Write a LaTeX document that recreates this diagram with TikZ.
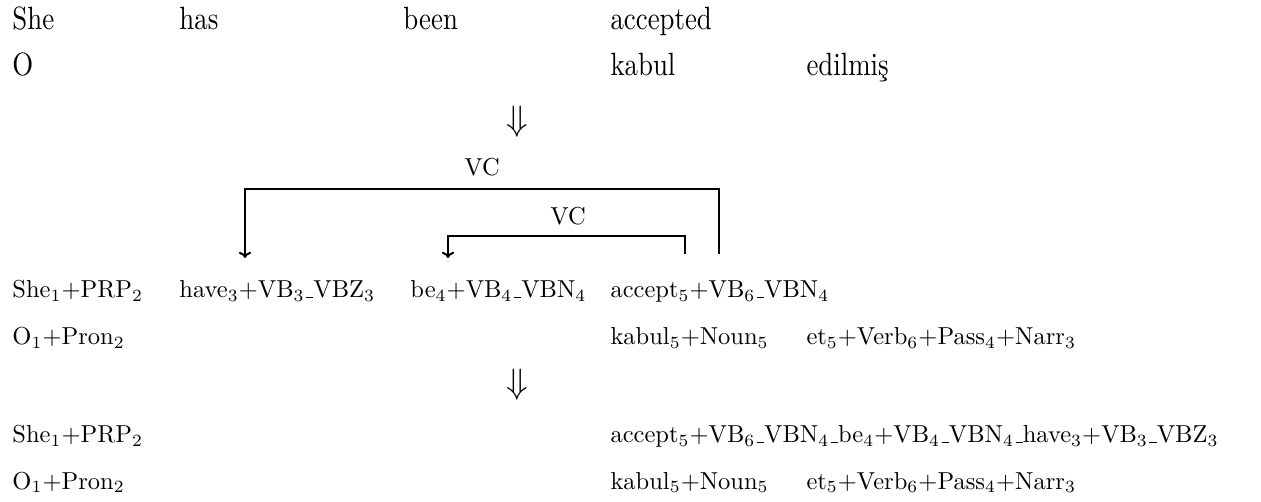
\documentclass[tikz,border=0pt]{standalone}
\usepackage{amssymb,amsmath}
\usepackage{graphicx}
\usepackage{xcolor}
\usepackage{tikz}
\usetikzlibrary{arrows.meta}

% short low rule, as in the OT1 fonts
\newcommand{\usc}{\leavevmode\kern.06em\vbox{\hrule width.3em}}
\newcommand{\tallword}[1]{\scalebox{1}[1.2]{#1}}

\tikzset{
  word/.style={anchor=base west,inner sep=0pt},
  srcword/.style={word,font=\fontsize{10.95}{13}\selectfont},
  vclabel/.style={inner sep=0.75pt},
  vcline/.style={line width=0.8pt,-{To[length=2.5pt,width=5pt]}},
  stepsign/.style={inner sep=0pt,font=\fontsize{15}{18}\selectfont}
}

\begin{document}
\begin{tikzpicture}[x=0.408pt,y=0.408pt,yscale=-1,xscale=1]
\useasboundingbox (0,0) rectangle (1261,502);

% Text Node
\node[srcword] (she)   at (12,30)  {\tallword{She}};
\node[srcword] (has)   at (179,30) {\tallword{has}};
\node[srcword] (been)  at (403,30) {\tallword{been}};
\node[srcword] (acced) at (610,30) {\tallword{accepted}};
% Text Node
\node[srcword] (o)     at (12,76)  {\tallword{O}};
\node[srcword] (kabul) at (610,76) {\tallword{kabul}};
\node[srcword] (edil)  at (806,76) {\tallword{edilmiş}};

% Text Node
\node[stepsign] (stepA) at (517,122) {$\Downarrow$};

% Text Node
\node[word] (sheT)  at (12,298)  {She$_1$+PRP$_2$};
\node[word] (have)  at (179,298) {have$_3$+VB$_3$\usc VBZ$_3$};
\node[word] (be)    at (410,298) {be$_4$+VB$_4$\usc VBN$_4$};
\node[word] (acc)   at (610,298) {accept$_5$+VB$_6$\usc VBN$_4$};
% Text Node
\node[word] (oT)     at (12,345)  {O$_1$+Pron$_2$};
\node[word] (kabulT) at (610,345) {kabul$_5$+Noun$_5$};
\node[word] (etT)    at (806,345) {et$_5$+Verb$_6$+Pass$_4$+Narr$_3$};

% Text Node
\node[stepsign] (stepB) at (517,385) {$\Downarrow$};

% Text Node
\node[word] (sheR) at (12,443)  {She$_1$+PRP$_2$};
\node[word] (accR) at (610,443) {accept$_5$+VB$_6$\usc VBN$_4$\usc be$_4$+VB$_4$\usc VBN$_4$\usc have$_3$+VB$_3$\usc VBZ$_3$};
% Text Node
\node[word] (oR)     at (12,489)  {O$_1$+Pron$_2$};
\node[word] (kabulR) at (610,489) {kabul$_5$+Noun$_5$};
\node[word] (etR)    at (806,489) {et$_5$+Verb$_6$+Pass$_4$+Narr$_3$};

%Straight Lines
\coordinate (vcOutR) at (719,254);
\coordinate (vcOutL) at (245,258);
\coordinate (vcInR)  at (685,254);
\coordinate (vcInL)  at (448,258);
\draw[vcline] (vcOutR) -- (719,189) -| (vcOutL);
\draw[vcline] (vcInR) -- (685,236) -| (vcInL);

% Text Node
\node[vclabel] (vcOut) at (482,167) {VC};
\node[vclabel] (vcIn)  at (568,216) {VC};

\end{tikzpicture}
\end{document}
